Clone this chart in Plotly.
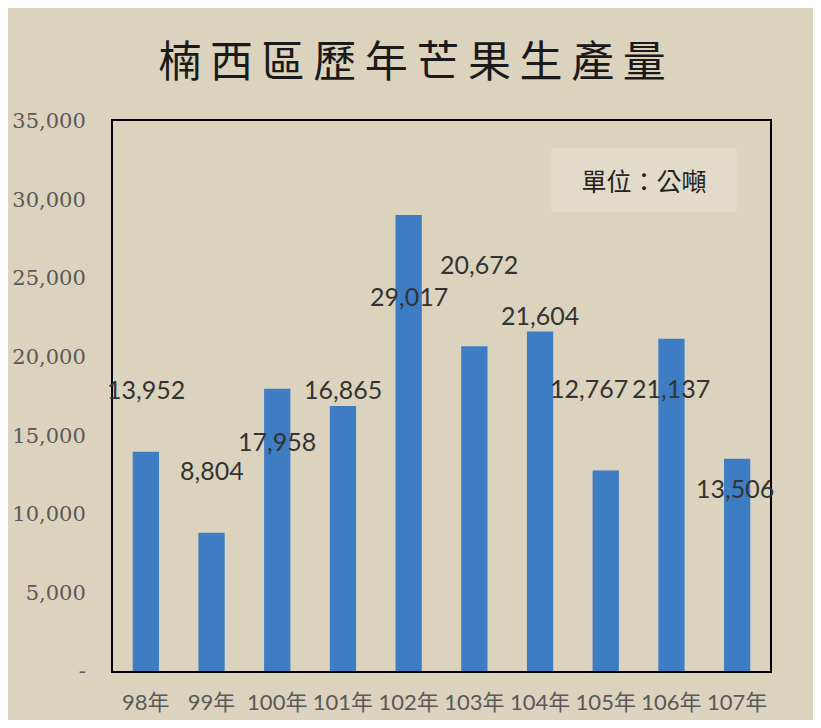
import plotly.graph_objects as go

categories = ["98年", "99年", "100年", "101年", "102年", "103年", "104年", "105年", "106年", "107年"]
production = [13952, 8804, 17958, 16865, 29017, 20672, 21604, 12767, 21137, 13506]
label_text = ["13,952", "8,804", "17,958", "16,865", "29,017", "20,672", "21,604", "12,767", "21,137", "13,506"]
# where the (Excel-placed) data labels sit, in axis units
label_y = [17950, 12790, 14640, 17950, 23860, 25900, 22650, 18000, 18000, 11650]
label_dx = [0, 0, 0, 0, 0, 5, 0, -17, 0, -2]
y_ticks = [0, 5000, 10000, 15000, 20000, 25000, 30000, 35000]
y_tick_text = ["-", "5,000", "10,000", "15,000", "20,000", "25,000", "30,000", "35,000"]

BG = "#dcd3be"
fig = go.Figure()
fig.add_trace(go.Bar(x=categories, y=production, marker_color="#3e7cc4",
                     marker_line_width=0, width=0.4))

for c, t, ly, dx in zip(categories, label_text, label_y, label_dx):
    fig.add_annotation(x=c, y=ly, text=t, showarrow=False, xshift=dx,
                       font=dict(family="Lato, Carlito, sans-serif", size=25, color="#333333"))

fig.add_annotation(xref="paper", yref="paper", x=0.808, y=0.893, xanchor="center", yanchor="middle",
                   text="單位：公噸", showarrow=False, bgcolor="#e2dbca", width=182, height=60,
                   font=dict(family="Noto Sans CJK TC", size=25, color="#222222"))

fig.update_layout(
    width=805, height=712,
    margin=dict(l=105, r=43, t=113, b=49, autoexpand=False),
    paper_bgcolor=BG, plot_bgcolor=BG,
    showlegend=False,
    title=dict(text="\u2009".join("楠西區歷年芒果生產量"), x=0.502, xanchor="center",
               y=0.924, yanchor="middle", automargin=False,
               font=dict(family="Noto Sans CJK TC", size=43, color="#1a1a1a")),
    xaxis=dict(showgrid=False, showline=True, linecolor="black", linewidth=2, mirror=True,
               automargin=False,
               tickfont=dict(family="Lato, Noto Sans CJK TC", size=22, color="#595959"),
               ticklabelstandoff=11, range=[-0.5, 9.5]),
    yaxis=dict(range=[0, 35000], tickvals=y_ticks, ticktext=y_tick_text, showgrid=False,
               showline=True, linecolor="black", linewidth=2, mirror=True, zeroline=False,
               automargin=False,
               tickfont=dict(family="DejaVu Serif", size=21, color="#595959"),
               ticklabelstandoff=21),
)
fig.write_html("out.html")
